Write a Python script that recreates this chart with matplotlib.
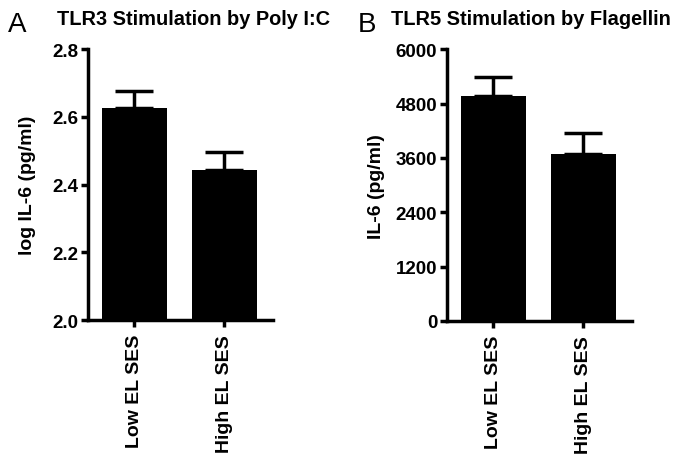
import matplotlib.pyplot as plt

groups = ["Low EL SES", "High EL SES"]

# panel A: log IL-6 after Poly I:C
tlr3_mean = [2.625, 2.442]
tlr3_sem = [0.050, 0.053]
tlr3_ticks = [2.0, 2.2, 2.4, 2.6, 2.8]

# panel B: IL-6 after Flagellin
tlr5_mean = [4960, 3690]
tlr5_sem = [420, 450]
tlr5_ticks = [0, 1200, 2400, 3600, 4800, 6000]

plt.rcParams["font.family"] = ["Liberation Sans", "DejaVu Sans"]
plt.rcParams["font.weight"] = "bold"


def panel(fig, rect, means, sems, ticks, fmt, ylabel, lpad):
    ax = fig.add_axes(rect)
    x = [0, 1]
    ax.bar(x, means, width=0.72, color="black")
    ax.errorbar(x, means, yerr=[[0, 0], sems], fmt="none", ecolor="black",
                elinewidth=2.5, capsize=14, capthick=2.5)
    ax.set_ylim(ticks[0], ticks[-1])
    ax.set_xlim(-0.51, 1.54)
    ax.set_yticks(ticks)
    ax.set_yticklabels([fmt.format(t) for t in ticks], fontsize=13.5, fontweight="bold")
    ax.set_xticks(x)
    ax.set_xticklabels(groups, rotation=90, fontsize=14, fontweight="bold")
    for s in ["top", "right"]:
        ax.spines[s].set_visible(False)
    for s in ["left", "bottom"]:
        ax.spines[s].set_linewidth(2.5)
    ax.tick_params(width=2.5, length=5, pad=2)
    ax.tick_params(axis="x", pad=5)
    ax.set_ylabel(ylabel, fontsize=14, fontweight="bold", labelpad=lpad)
    return ax


def main():
    fig = plt.figure(figsize=(6.85, 4.6), dpi=100)

    panel(fig, [0.1285, 0.302, 0.270, 0.589], tlr3_mean, tlr3_sem, tlr3_ticks,
          "{:.1f}", "log IL-6 (pg/ml)", 12)
    panel(fig, [0.6526, 0.300, 0.270, 0.591], tlr5_mean, tlr5_sem, tlr5_ticks,
          "{:.0f}", "IL-6 (pg/ml)", 8)

    fig.text(0.283, 0.945, "TLR3 Stimulation by Poly I:C", fontsize=14.4,
             fontweight="bold", ha="center", va="baseline")
    fig.text(0.775, 0.945, "TLR5 Stimulation by Flagellin", fontsize=14.4,
             fontweight="bold", ha="center", va="baseline")
    fig.text(0.012, 0.93, "A", fontsize=20, fontweight="normal")
    fig.text(0.522, 0.93, "B", fontsize=20, fontweight="normal")

    fig.savefig("out.png", dpi=100)


if __name__ == "__main__":
    main()
